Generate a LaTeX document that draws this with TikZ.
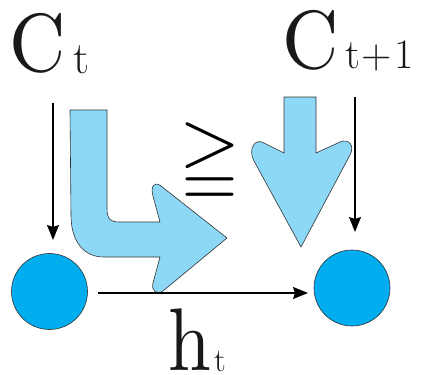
\documentclass[tikz,border=0pt]{standalone}
\usepackage{amssymb}
\usepackage{graphicx}
\usetikzlibrary{arrows.meta}
\definecolor{lightarrow}{HTML}{8DD7F7}
\definecolor{cellblue}{HTML}{00ADEE}
\definecolor{edgegray}{HTML}{333333}
\tikzset{
  bigarrow/.style={fill=lightarrow, draw=edgegray, line width=0.6pt, line join=round},
  cell/.style={circle, fill=cellblue, draw=edgegray, line width=0.6pt, minimum size=76pt, inner sep=0pt},
  thinarrow/.style={line width=1.3pt, -{Stealth[length=15pt,width=12pt,inset=2pt]}},
  lbl/.style={inner sep=0pt, outer sep=0pt, anchor=base west, text=black!90}
}
\begin{document}
\begin{tikzpicture}[x=1pt,y=-1pt]
\useasboundingbox (0,0) rectangle (424,375);
% labels
\node[lbl] (Cl) at (9.5,71) {\scalebox{7.8}[8.25]{\fontsize{10}{12}\selectfont C}};
\node[lbl] (tl) at (74,73) {\fontsize{45}{46}\selectfont t};
\node[lbl] (Cr) at (282.5,68) {\scalebox{7.8}[8.25]{\fontsize{10}{12}\selectfont C}};
\node[lbl] (tr) at (345,68) {\fontsize{42}{44}\selectfont t\kern2pt+\kern2pt1};
\node[lbl] (h) at (168,370) {\scalebox{7.7}[8.9]{\fontsize{10}{12}\selectfont h}};
\node[lbl] (th) at (214,371) {\fontsize{33}{34}\selectfont t};
\node[inner sep=0pt] (geq) at (210,163) {\resizebox{61pt}{60pt}{$\geqq$}};
% cells
\node[cell] (c1) at (49.5,291.5) {};
\node[cell] (c2) at (352,288) {};
% big bent arrow
\path[bigarrow] (70,110) -- (107,110) -- (107,208)
  .. controls (107,219) and (110,222) .. (120,222) -- (160,222)
  -- (153,196) .. controls (150,186) and (155,181) .. (161,186)
  -- (227,238)
  -- (163,291) .. controls (157,295) and (151,291) .. (153,283)
  -- (160,257) -- (104,257)
  .. controls (84,257) and (71,242) .. (71,215) -- cycle;
% big down arrow
\path[bigarrow] (284,97) -- (316,97) -- (316,153) -- (340,142)
  .. controls (349,138) and (355,146) .. (350,155)
  -- (301,247) -- (254,161)
  .. controls (248,151) and (254,137) .. (264,143)
  -- (284,153) -- cycle;
% thin arrows
\coordinate (a1s) at (53,103);
\coordinate (a1e) at (53,240);
\coordinate (a2s) at (355,97);
\coordinate (a2e) at (355,232);
\coordinate (hs) at (98,293);
\coordinate (he) at (308,293);
\draw[thinarrow] (a1s) -- (a1e);
\draw[thinarrow] (a2s) -- (a2e);
\draw[thinarrow] (hs) -- (he);
\end{tikzpicture}
\end{document}
